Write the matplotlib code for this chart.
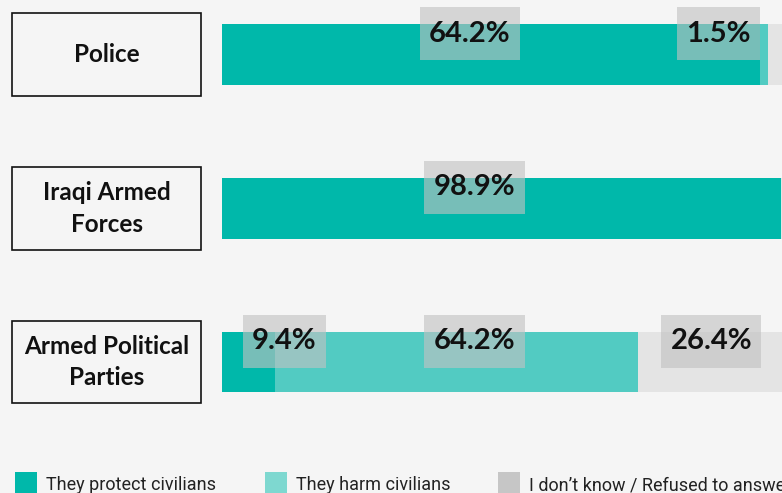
import matplotlib.pyplot as plt
from matplotlib.patches import Rectangle
from matplotlib.transforms import blended_transform_factory

# data
categories = ['Police', 'Iraqi Armed\nForces', 'Armed Political\nParties']
protect = [95.2, 98.9, 9.4]
harm = [1.5, 0.0, 64.2]
dont_know = [3.3, 1.1, 26.4]
series_names = ['They protect civilians', 'They harm civilians', 'I don\u2019t know / Refused to answer']

# value labels as shown on the chart (row, text, x position)
label_rows = [0, 0, 1, 2, 2, 2]
label_text = ['64.2%', '1.5%', '98.9%', '9.4%', '64.2%', '26.4%']
label_x = [43.9, 87.9, 44.7, 11.0, 44.7, 86.6]

bar_colors = ['#00b8aa', '#52cbc2', '#e4e4e4']
legend_colors = ['#00b8aa', '#7ed8d0', '#c6c6c6']
bg = '#f5f5f5'

W, H = 782, 493
fig = plt.figure(figsize=(W / 100, H / 100), dpi=100, facecolor=bg)
# axis runs past the right edge of the picture (chart is cropped)
ax = fig.add_axes([222 / W, 0, 565 / W, 1])
ax.set_facecolor(bg)

y = list(range(len(categories)))
h = 61 / 153.75
left2 = [a + b for a, b in zip(protect, harm)]
ax.barh(y, protect, height=h, color=bar_colors[0], linewidth=0)
ax.barh(y, harm, left=protect, height=h, color=bar_colors[1], linewidth=0)
ax.barh(y, dont_know, left=left2, height=h, color=bar_colors[2], linewidth=0)

ax.set_xlim(0, 100)
ax.set_ylim((H - 54.5) / 153.75, -54.5 / 153.75)
ax.axis('off')

for r, t, x in zip(label_rows, label_text, label_x):
    ax.text(x, r - 0.135, t, ha='center', va='center', fontsize=21,
            fontweight='bold', family='Lato', color='#111111',
            bbox=dict(boxstyle='square,pad=0.32', facecolor='#c2c2c2',
                      edgecolor='none', alpha=0.62, mutation_aspect=1.45))

# category boxes on the left
tr = blended_transform_factory(fig.transFigure, ax.transData)
bh = 83 / 153.75
for i, c in enumerate(categories):
    ax.add_patch(Rectangle((12 / W, i - bh / 2), 189 / W, bh, transform=tr,
                           facecolor=bg, edgecolor='#111111', linewidth=1.2,
                           clip_on=False))
    ax.text(106.5 / W, i, c, transform=tr, ha='center', va='center',
            fontsize=17.5, fontweight='bold', family='Lato', color='#111111',
            linespacing=1.45)

# legend along the bottom edge
sw_x = [15, 265, 498]
for x, col, name in zip(sw_x, legend_colors, series_names):
    fig.patches.append(Rectangle((x / W, (H - 494) / H), 22 / W, 22 / H,
                                 transform=fig.transFigure, facecolor=col,
                                 edgecolor='none'))
    fig.text((x + 31) / W, (H - 490) / H, name, ha='left', va='baseline',
             fontsize=13, family='Roboto', color='#222222')

fig.savefig('out.png', dpi=100, facecolor=bg)
